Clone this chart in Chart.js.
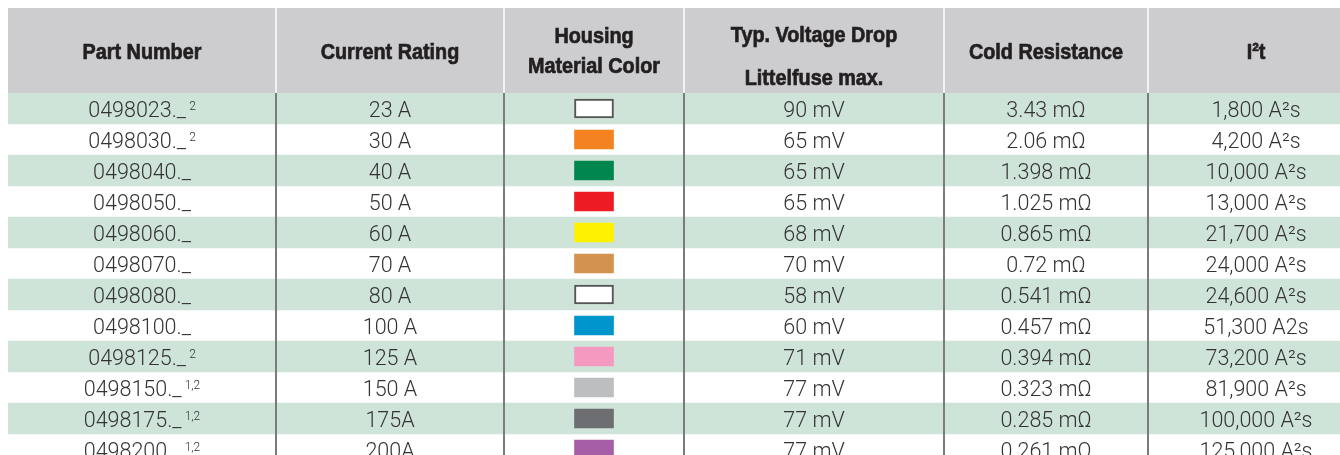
<!DOCTYPE html>
<html>
<head>
<meta charset="utf-8">
<title>0498 ordering table</title>
<script src="https://cdn.jsdelivr.net/npm/chart.js@4.4.1/dist/chart.umd.min.js"></script>
<style>
  html, body { margin: 0; padding: 0; background: #fff; }
  #wrap { width: 1340px; height: 455px; position: relative; }
</style>
</head>
<body>
<div id="wrap"><canvas id="tabela"></canvas></div>
<script>
// dados da tabela
var headers = [
    ['Part Number'],
    ['Current Rating'],
    ['Housing', 'Material Color'],
    ['Typ. Voltage Drop', 'Littelfuse max.'],
    ['Cold Resistance'],
    ['I²t']
];
var partNumbers = ['0498023._', '0498030._', '0498040._', '0498050._', '0498060._', '0498070._',
    '0498080._', '0498100._', '0498125._', '0498150._', '0498175._', '0498200._'];
var partNotes = ['2', '2', '', '', '', '', '', '', '2', '1,2', '1,2', '1,2'];
var currentRatings = ['23 A', '30 A', '40 A', '50 A', '60 A', '70 A', '80 A', '100 A', '125 A', '150 A', '175A', '200A'];
var housingColors = ['#ffffff', '#f58220', '#00874f', '#ed1c24', '#fff200', '#d3924f',
    '#ffffff', '#0096cc', '#f49ac1', '#bcbec0', '#6d6e71', '#a65fa6'];
var voltageDrops = ['90 mV', '65 mV', '65 mV', '65 mV', '68 mV', '70 mV', '58 mV', '60 mV', '71 mV', '77 mV', '77 mV', '77 mV'];
var coldResistance = ['3.43 mΩ', '2.06 mΩ', '1.398 mΩ', '1.025 mΩ', '0.865 mΩ', '0.72 mΩ',
    '0.541 mΩ', '0.457 mΩ', '0.394 mΩ', '0.323 mΩ', '0.285 mΩ', '0.261 mΩ'];
var i2tValues = ['1,800 A²s', '4,200 A²s', '10,000 A²s', '13,000 A²s', '21,700 A²s', '24,000 A²s',
    '24,600 A²s', '51,300 A2s', '73,200 A²s', '81,900 A²s', '100,000 A²s', '125,000 A²s'];

// layout
var colWidths = [268, 228, 180, 260, 204, 216];
var HEADER_H = 85;
var SWATCH_W = 39;
var TABLE_W = 1332;
var ROW_H = 31;

function colEdge(k) {
    var s = 0;
    for (var i = 0; i < k; i++) s += colWidths[i];
    return s;
}
function colMid(k) {
    return (colEdge(k) + colEdge(k + 1)) / 2;
}

var corpoFont = '300 21.5px Roboto, "Liberation Sans", sans-serif';
var supFont = '300 12px Roboto, "Liberation Sans", sans-serif';
var headFont = 'bold 22px "Liberation Sans", Arial, sans-serif';
var HEAD_SQUEEZE = 0.9;

var listras = [];
partNumbers.forEach(function (p, i) {
    if (i % 2 === 0) listras.push({ x: [0, TABLE_W + 20], y: i });
});

var amostras = housingColors.map(function (c, i) {
    return { x: [colMid(2) - SWATCH_W / 2, colMid(2) + SWATCH_W / 2], y: i };
});

var tabelaPlugin = {
    id: 'tabela',
    beforeDatasetsDraw: function (chart) {
        var ctx = chart.ctx, area = chart.chartArea;
        ctx.save();
        ctx.fillStyle = '#cdcdd0';
        ctx.fillRect(area.left, area.top - HEADER_H, area.right - area.left, HEADER_H);
        ctx.restore();
    },
    afterDatasetsDraw: function (chart) {
        var ctx = chart.ctx, area = chart.chartArea;
        var xs = chart.scales.x, ys = chart.scales.y;
        var topo = area.top - HEADER_H;
        ctx.save();

        // linhas verticais
        for (var k = 1; k < colWidths.length; k++) {
            var px = Math.round(xs.getPixelForValue(colEdge(k)));
            ctx.fillStyle = '#f2f2f2';
            ctx.fillRect(px - 1, topo, 2, HEADER_H);
            ctx.fillStyle = '#7b7b7b';
            ctx.fillRect(px - 1, area.top, 2, area.bottom - area.top);
        }

        // cabecalho
        ctx.fillStyle = '#231f20';
        ctx.strokeStyle = '#231f20';
        ctx.lineWidth = 0.7;
        ctx.font = headFont;
        ctx.textAlign = 'center';
        ctx.textBaseline = 'alphabetic';
        headers.forEach(function (linhas, k) {
            var cx = xs.getPixelForValue(colMid(k));
            var bases = linhas.length === 1 ? [topo + 51] : (k === 3 ? [topo + 34, topo + 77] : [topo + 35, topo + 65]);
            linhas.forEach(function (t, j) {
                ctx.save();
                ctx.translate(cx, bases[j]);
                ctx.scale(HEAD_SQUEEZE, 1);
                ctx.fillText(t, 0, 0);
                ctx.strokeText(t, 0, 0);
                ctx.restore();
            });
        });

        // corpo
        ctx.fillStyle = '#333333';
        var colunas = [null, currentRatings, null, voltageDrops, coldResistance, i2tValues];
        partNumbers.forEach(function (p, i) {
            var base = ys.getPixelForValue(i) + 8;

            ctx.font = corpoFont;
            var w1 = ctx.measureText(p).width;
            ctx.font = supFont;
            var w2 = partNotes[i] ? ctx.measureText(partNotes[i]).width + 3 : 0;
            var x0 = xs.getPixelForValue(colMid(0)) - (w1 + w2) / 2;
            ctx.textAlign = 'left';
            ctx.font = corpoFont;
            ctx.fillText(p, x0, base);
            if (partNotes[i]) {
                ctx.font = supFont;
                ctx.fillText(partNotes[i], x0 + w1 + 3, base - 7);
            }

            ctx.textAlign = 'center';
            ctx.font = corpoFont;
            colunas.forEach(function (vals, k) {
                if (!vals) return;
                ctx.fillText(vals[i], xs.getPixelForValue(colMid(k)), base);
            });
        });
        ctx.restore();
    }
};

new Chart(document.getElementById('tabela'), {
    type: 'bar',
    data: {
        datasets: [
            {
                label: 'linhas',
                data: listras,
                backgroundColor: '#cfe4d9',
                grouped: false,
                barPercentage: 1,
                categoryPercentage: 1,
                order: 2
            },
            {
                label: 'Housing Material Color',
                data: amostras,
                backgroundColor: housingColors,
                borderColor: housingColors.map(function (c) { return c === '#ffffff' ? '#555555' : c; }),
                borderWidth: housingColors.map(function (c) { return c === '#ffffff' ? 2 : 0; }),
                borderSkipped: false,
                grouped: false,
                barThickness: 19,
                order: 1
            }
        ]
    },
    options: {
        indexAxis: 'y',
        responsive: true,
        maintainAspectRatio: false,
        animation: false,
        devicePixelRatio: 1,
        layout: { padding: { top: 8 + HEADER_H, left: 8, right: 0, bottom: 0 } },
        scales: {
            x: { type: 'linear', min: 0, max: TABLE_W, display: false },
            y: {
                type: 'linear',
                reverse: true,
                offset: false,
                min: -0.5,
                max: -0.5 + (455 - 8 - HEADER_H) / ROW_H,
                display: false,
                afterBuildTicks: function (scale) {
                    scale.ticks = partNumbers.map(function (p, i) { return { value: i }; });
                }
            }
        },
        plugins: {
            legend: { display: false },
            tooltip: { enabled: false }
        }
    },
    plugins: [tabelaPlugin]
});
</script>
</body>
</html>
